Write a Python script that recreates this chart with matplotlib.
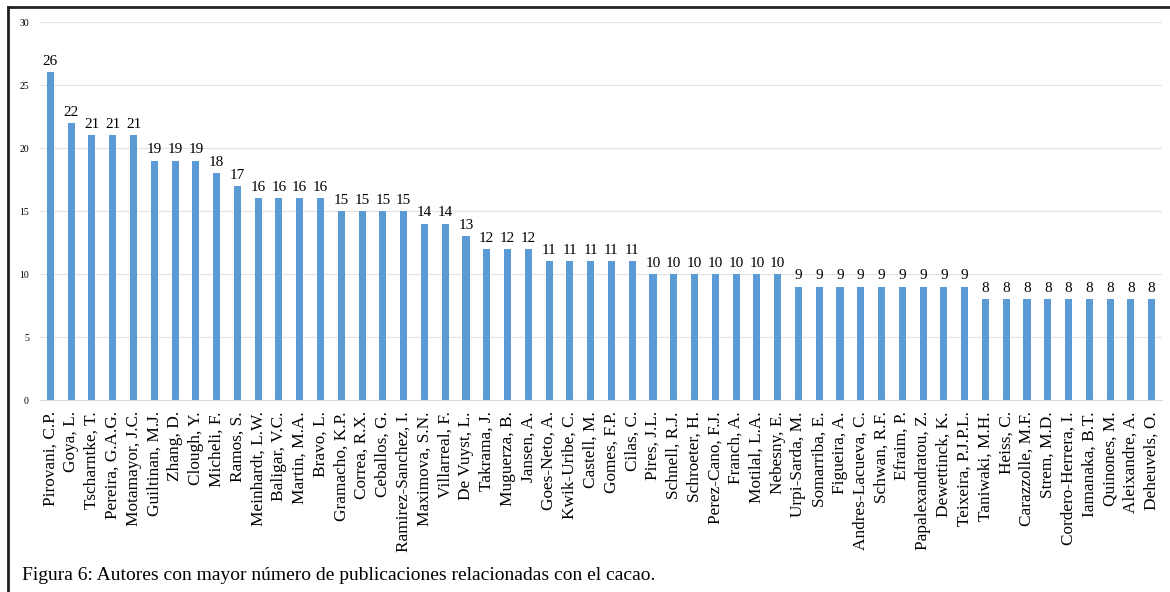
import matplotlib.pyplot as plt
from matplotlib.lines import Line2D

autores = [
    "Pirovani, C.P.", "Goya, L.", "Tscharntke, T.", "Pereira, G.A.G.", "Motamayor, J.C.",
    "Guiltinan, M.J.", "Zhang, D.", "Clough, Y.", "Micheli, F.", "Ramos, S.",
    "Meinhardt, L.W.", "Baligar, V.C.", "Martin, M.A.", "Bravo, L.", "Gramacho, K.P.",
    "Correa, R.X.", "Ceballos, G.", "Ramirez-Sanchez, I.", "Maximova, S.N.", "Villarreal, F.",
    "De Vuyst, L.", "Takrama, J.", "Muguerza, B.", "Jansen, A.", "Goes-Neto, A.",
    "Kwik-Uribe, C.", "Castell, M.", "Gomes, F.P.", "Cilas, C.", "Pires, J.L.",
    "Schnell, R.J.", "Schroeter, H.", "Perez-Cano, F.J.", "Franch, A.", "Motilal, L.A.",
    "Nebesny, E.", "Urpi-Sarda, M.", "Somarriba, E.", "Figueira, A.", "Andres-Lacueva, C.",
    "Schwan, R.F.", "Efraim, P.", "Papalexandratou, Z.", "Dewettinck, K.", "Teixeira, P.J.P.L.",
    "Taniwaki, M.H.", "Heiss, C.", "Carazzolle, M.F.", "Strem, M.D.", "Cordero-Herrera, I.",
    "Iamanaka, B.T.", "Quinones, M.", "Aleixandre, A.", "Deheuvels, O.",
]
publicaciones = [
    26, 22, 21, 21, 21, 19, 19, 19, 18, 17,
    16, 16, 16, 16, 15, 15, 15, 15, 14, 14,
    13, 12, 12, 12, 11, 11, 11, 11, 11, 10,
    10, 10, 10, 10, 10, 10, 9, 9, 9, 9,
    9, 9, 9, 9, 9, 8, 8, 8, 8, 8,
    8, 8, 8, 8,
]
y_ticks = [0, 5, 10, 15, 20, 25, 30]
caption = "Figura 6: Autores con mayor número de publicaciones relacionadas con el cacao."

plt.rcParams['font.family'] = ['Liberation Serif', 'DejaVu Serif']

fig = plt.figure(figsize=(11.7, 5.92), dpi=100)
ax = fig.add_axes([0.0342, 0.3243, 0.9590, 0.6385])

x = range(len(autores))
bars = ax.bar(x, publicaciones, width=0.34, color='#5B9BD5', zorder=3)
ax.bar_label(bars, padding=3, fontsize=11)

ax.set_xlim(-0.5, len(autores) - 0.5)
ax.set_ylim(0, 30)
ax.set_yticks(y_ticks)
ax.tick_params(axis='y', labelsize=7, length=0, pad=8)
ax.set_xticks(list(x))
ax.set_xticklabels(autores, rotation=90, fontsize=12.4)
ax.tick_params(axis='x', length=0, pad=8)
ax.grid(axis='y', color='#e3e3e3', linewidth=0.8, zorder=0)
for side in ['top', 'right', 'left']:
    ax.spines[side].set_visible(False)
ax.spines['bottom'].set_color('#d9d9d9')

fig.text(22 / 1170, 1 - 580 / 592, caption, fontsize=14, ha='left', va='baseline')

# outer frame (left and top)
fig.add_artist(Line2D([8 / 1170, 8 / 1170], [0, 1 - 7 / 592], color='#222222', linewidth=2,
                      transform=fig.transFigure))
fig.add_artist(Line2D([8 / 1170, 1], [1 - 7 / 592, 1 - 7 / 592], color='#222222', linewidth=2,
                      transform=fig.transFigure))

plt.savefig('out.png', dpi=100)
